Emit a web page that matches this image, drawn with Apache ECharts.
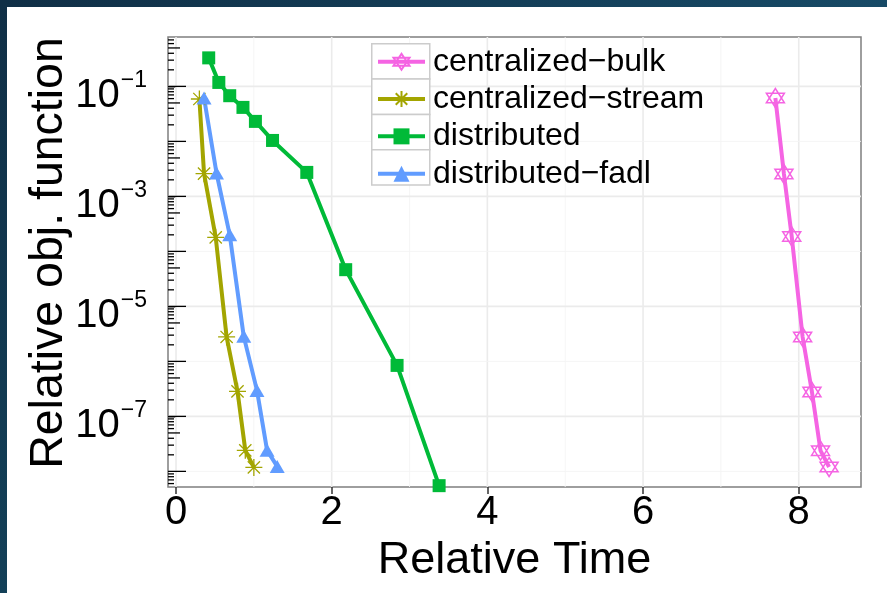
<!DOCTYPE html>
<html><head><meta charset="utf-8">
<script src="https://cdn.jsdelivr.net/npm/echarts@6/dist/echarts.min.js"></script>
<style>html,body{margin:0;padding:0;background:#fff}#c{width:887px;height:593px}</style>
</head><body><div id="c"></div>
<script>
// ---- data ----
const seriesNames = ['centralized\u2212bulk', 'centralized\u2212stream', 'distributed', 'distributed\u2212fadl'];
const bulkX   = [7.70, 7.81, 7.91, 8.05, 8.17, 8.28, 8.39];
const bulkY   = [0.0615, 0.00255, 1.87e-4, 2.78e-6, 2.78e-7, 2.38e-8, 1.2e-8];
const streamX = [0.30, 0.36, 0.51, 0.65, 0.79, 0.89, 1.00];
const streamY = [0.059, 0.00259, 1.8e-4, 2.78e-6, 2.85e-7, 2.41e-8, 1.18e-8];
const distX   = [0.42, 0.55, 0.69, 0.86, 1.02, 1.24, 1.68, 2.18, 2.84, 3.38];
const distY   = [0.33, 0.118, 0.0677, 0.0415, 0.0231, 0.0104, 0.00273, 4.65e-5, 8.45e-7, 5.5e-9];
const fadlX   = [0.36, 0.52, 0.69, 0.87, 1.04, 1.17, 1.30];
const fadlY   = [0.0617, 0.00266, 2.0e-4, 2.85e-6, 2.97e-7, 2.41e-8, 1.23e-8];

const xTicks = [0, 2, 4, 6, 8];
const xMinorGrid = [1, 3, 5, 7];
const yTicks = [1e-1, 1e-3, 1e-5, 1e-7];
const yTickExp = ['\u22121', '\u22123', '\u22125', '\u22127'];
const yMinorGrid = [1e-2, 1e-4, 1e-6, 1e-8];
const logMultipliers = [1, 2, 3, 4, 5, 6, 7, 8, 9];
const logDecades = [1e-9, 1e-8, 1e-7, 1e-6, 1e-5, 1e-4, 1e-3, 1e-2, 1e-1];

// ---- layout / style ----
const XMIN = -0.103, XMAX = 8.8;
const YMIN = Math.pow(10, -8.284), YMAX = Math.pow(10, -0.102);
const FONT = 'Liberation Sans';
const PINK = '#F564E3', OLIVE = '#A3A500', GREEN = '#00BA38', BLUE = '#619CFF';
const HEX = 'path://M0,-1L0.866,0.5L-0.866,0.5ZM0,1L0.866,-0.5L-0.866,-0.5Z';
const AST = 'path://M0,-1L0,1M-1,0L1,0M-0.72,-0.72L0.72,0.72M-0.72,0.72L0.72,-0.72';

const zip = (a, b) => a.map((v, i) => [v, b[i]]);

const logTicks = [];
logDecades.forEach(d => logMultipliers.forEach(m => {
  const v = m * d;
  if (v >= YMIN && v <= YMAX) logTicks.push([XMIN, v, m === 1 ? 18 : (m === 5 ? 12 : 6)]);
}));

const chart = echarts.init(document.getElementById('c'), null, {renderer: 'canvas'});

const legendTop = 43, rowH = 35.33;
const keyBoxes = seriesNames.map((n, i) => ({
  type: 'rect', left: 371, top: legendTop + i * rowH, z: 3, silent: true,
  shape: {width: 58, height: rowH},
  style: {fill: '#fff', stroke: '#cccccc', lineWidth: 1.5}
}));

chart.setOption({
  animation: false,
  textStyle: {fontFamily: FONT},
  graphic: [
    {type: 'rect', left: 0, top: 0, z: 10, silent: true, shape: {width: 887, height: 7},
     style: {fill: new echarts.graphic.LinearGradient(0, 0, 1, 0, [{offset: 0, color: '#102f46'}, {offset: 1, color: '#174a66'}])}},
    {type: 'rect', left: 0, top: 0, z: 10, silent: true, shape: {width: 7, height: 593},
     style: {fill: new echarts.graphic.LinearGradient(0, 0, 0, 1, [{offset: 0, color: '#102f46'}, {offset: 1, color: '#134058'}])}},
    ...keyBoxes
  ],
  grid: {left: 168, top: 37, width: 693, height: 450, show: true, borderColor: '#7f7f7f', borderWidth: 1.5,
         backgroundColor: 'transparent', outerBoundsMode: 'none'},
  legend: {
    data: seriesNames, orient: 'vertical', left: 376, top: legendTop + 2.7, padding: 0,
    itemWidth: 47, itemHeight: 20, itemGap: 5.33, z: 4,
    lineStyle: {width: 4},
    textStyle: {fontSize: 32, color: '#000', fontFamily: FONT, lineHeight: 30, padding: [0, 0, 0, 3]}
  },
  xAxis: {
    type: 'value', min: XMIN, max: XMAX,
    axisLine: {show: false},
    splitLine: {show: false},
    axisTick: {show: true, length: 7, customValues: xTicks, lineStyle: {color: '#333', width: 1.5}},
    axisLabel: {customValues: xTicks, fontSize: 40, color: '#000', margin: 6, fontFamily: FONT},
    name: 'Relative Time', nameLocation: 'middle', nameGap: 51, nameMoveOverlap: false,
    nameTextStyle: {fontSize: 45, color: '#000', fontFamily: FONT}
  },
  yAxis: {
    type: 'log', min: YMIN, max: YMAX,
    axisLine: {show: false},
    splitLine: {show: false},
    axisTick: {show: true, length: 8, customValues: yTicks, lineStyle: {color: '#333', width: 1.5}},
    axisLabel: {
      customValues: yTicks, margin: 21, color: '#000', padding: [20, 0, 0, 0],
      formatter: v => {
        const i = yTicks.findIndex(t => Math.abs(Math.log10(t) - Math.log10(v)) < 1e-6);
        return i < 0 ? '' : '{b|10}{s|' + yTickExp[i] + '}';
      },
      rich: {
        b: {fontSize: 40, fontFamily: FONT, color: '#000', verticalAlign: 'bottom', lineHeight: 40},
        s: {fontSize: 23, fontFamily: FONT, color: '#000', verticalAlign: 'bottom', lineHeight: 23, padding: [0, 0, 24, 1]}
      }
    },
    name: 'Relative obj. function', nameLocation: 'middle', nameGap: 95, nameMoveOverlap: false,
    nameTextStyle: {fontSize: 46.5, color: '#000', fontFamily: FONT, padding: [0, 0, 0, 18]}
  },
  series: [
    {type: 'custom', name: 'vgrid', silent: true, z: 1, clip: true,
     data: xTicks.map(v => [v, YMAX, 1]).concat(xMinorGrid.map(v => [v, YMAX, 0])),
     encode: {x: 0, y: 1},
     renderItem: (params, api) => {
       const x = api.value(0), major = api.value(2);
       const a = api.coord([x, YMIN]), b = api.coord([x, YMAX]);
       return {type: 'line', shape: {x1: a[0], y1: a[1], x2: b[0], y2: b[1]},
               style: {stroke: major ? '#ebebeb' : '#f4f4f4', lineWidth: major ? 1.6 : 0.9}};
     }},
    {type: 'custom', name: 'hgrid', silent: true, z: 1, clip: true,
     data: yTicks.map(v => [XMIN, v, 1]).concat(yMinorGrid.map(v => [XMIN, v, 0])),
     encode: {x: 0, y: 1},
     renderItem: (params, api) => {
       const y = api.value(1), major = api.value(2);
       const a = api.coord([XMIN, y]), b = api.coord([XMAX, y]);
       return {type: 'line', shape: {x1: a[0], y1: a[1], x2: b[0], y2: b[1]},
               style: {stroke: major ? '#ebebeb' : '#f4f4f4', lineWidth: major ? 1.6 : 0.9}};
     }},
    {type: 'custom', name: 'logticks', silent: true, z: 5, clip: false,
     data: logTicks, encode: {x: 0, y: 1},
     renderItem: (params, api) => {
       const p = api.coord([api.value(0), api.value(1)]);
       const len = api.value(2);
       return {type: 'line', shape: {x1: p[0], y1: p[1], x2: p[0] + len, y2: p[1]},
               style: {stroke: '#000', lineWidth: 1.3}};
     }},
    {name: seriesNames[0], type: 'line', z: 3, data: zip(bulkX, bulkY),
     symbol: HEX, symbolSize: [18, 19],
     itemStyle: {color: 'rgba(255,255,255,0)', borderColor: PINK, borderWidth: 1.5},
     lineStyle: {color: PINK, width: 4}},
    {name: seriesNames[1], type: 'line', z: 3, data: zip(streamX, streamY),
     symbol: AST, symbolSize: 17,
     itemStyle: {color: 'rgba(255,255,255,0)', borderColor: OLIVE, borderWidth: 1.3},
     lineStyle: {color: OLIVE, width: 4}},
    {name: seriesNames[2], type: 'line', z: 3, data: zip(distX, distY),
     symbol: 'rect', symbolSize: 13,
     itemStyle: {color: GREEN},
     lineStyle: {color: GREEN, width: 4}},
    {name: seriesNames[3], type: 'line', z: 3, data: zip(fadlX, fadlY),
     symbol: 'triangle', symbolSize: [15, 13],
     itemStyle: {color: BLUE},
     lineStyle: {color: BLUE, width: 4}}
  ]
});
</script>
</body></html>
